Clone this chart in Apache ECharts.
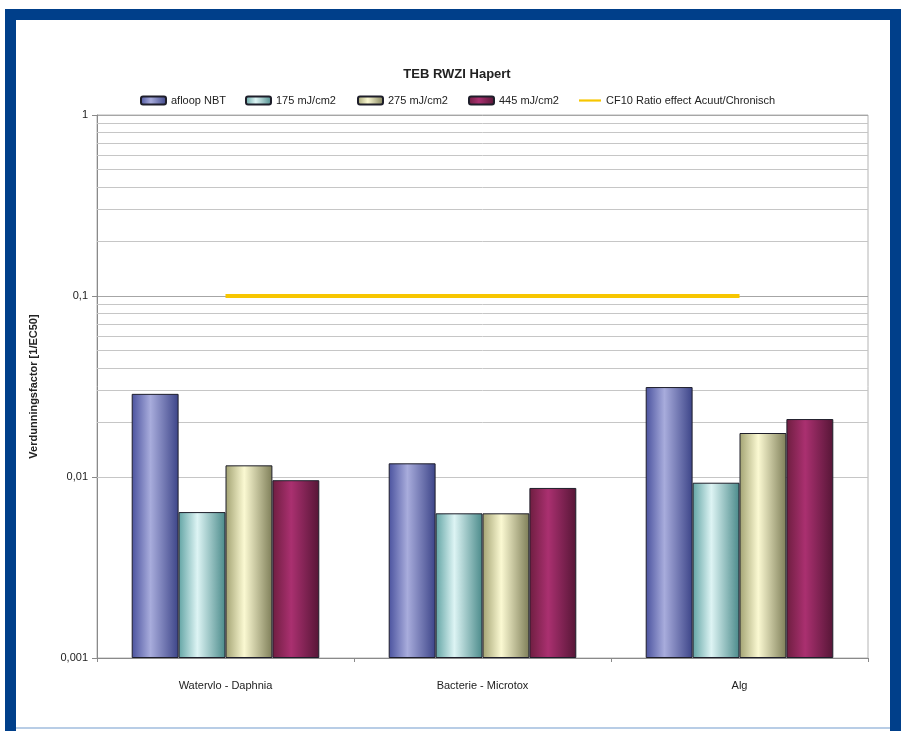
<!DOCTYPE html>
<html>
<head>
<meta charset="utf-8">
<script src="https://cdn.jsdelivr.net/npm/echarts@6/dist/echarts.min.js"></script>
<style>
html,body{margin:0;padding:0;background:#fff;}
#chart{width:901px;height:731px;}
</style>
</head>
<body>
<div id="chart"></div>
<script>
const categories = ['Watervlo - Daphnia', 'Bacterie - Microtox', 'Alg'];
const afloopNBT = [0.0288, 0.0119, 0.0314];
const mj175 = [0.0064, 0.0063, 0.0093];
const mj275 = [0.0116, 0.0063, 0.0175];
const mj445 = [0.0096, 0.0087, 0.0209];
const cf10 = [0.1, 0.1, 0.1];
const yTicks = [0.001, 0.01, 0.1, 1];
const minorGrid = [0.002,0.003,0.004,0.005,0.006,0.007,0.008,0.009,
                   0.02,0.03,0.04,0.05,0.06,0.07,0.08,0.09,
                   0.2,0.3,0.4,0.5,0.6,0.7,0.8,0.9];

const FONT = '"Liberation Sans", Arial, sans-serif';
function grad(a, b, c) {
  return {type:'linear', x:0, y:0, x2:1, y2:0, colorStops:[
    {offset:0, color:a},{offset:0.4, color:b},{offset:1, color:c}]};
}
const colBlue = grad('#4a529e', '#a8acdc', '#3c4488');
const colCyan = grad('#62a4a4', '#ddf4f4', '#4a8a8a');
const colYel = grad('#a2a272', '#fbf9d2', '#7e7e58');
const colMar = grad('#6e1e40', '#aa3070', '#561636');

function barSeries(name, data, color) {
  return {name, type:'bar', data, z:3,
    itemStyle:{color, borderColor:'#1e1e2a', borderWidth:1},
    barGap:'0%', barCategoryGap:'27%'};
}
function legendAt(name, left, extra) {
  return Object.assign({show:true, left, top:90, itemWidth:25, itemHeight:8, itemGap:0,
    data:[name], textStyle:{fontFamily:FONT, fontSize:11, color:'#222'}}, extra||{});
}

const chart = echarts.init(document.getElementById('chart'));
chart.setOption({
  backgroundColor:'#fff',
  animation:false,
  title:{text:'TEB RWZI Hapert', left:452, textAlign:'center', top:63,
    textStyle:{fontFamily:FONT, fontSize:13, fontWeight:'bold', color:'#222'}},
  legend:[
    legendAt('afloop NBT', 135),
    legendAt('175 mJ/cm2', 240),
    legendAt('275 mJ/cm2', 352),
    legendAt('445 mJ/cm2', 463),
    legendAt('CF10 Ratio effect Acuut/Chronisch', 574,
      {data:[{name:'CF10 Ratio effect Acuut/Chronisch', icon:'path://M0,0 L20,0 L20,2 L0,2 Z'}], itemWidth:22})
  ],
  grid:{left:97, right:33, top:115, bottom:73, show:true, borderColor:'#b4b4b4', borderWidth:1, backgroundColor:'#fff'},
  xAxis:{type:'category', data:categories,
    axisLine:{lineStyle:{color:'#8a8a8a'}},
    axisTick:{show:true, length:4, lineStyle:{color:'#8a8a8a'}},
    axisLabel:{fontFamily:FONT, fontSize:11, color:'#222', margin:22}},
  yAxis:{type:'log', logBase:10, min:yTicks[0], max:yTicks[yTicks.length-1], startValue:yTicks[0],
    name:'Verdunningsfactor [1/EC50]', nameLocation:'middle', nameGap:58, nameRotate:90,
    nameTextStyle:{fontFamily:FONT, fontSize:11, fontWeight:'bold', color:'#222'},
    axisLine:{show:true, lineStyle:{color:'#8a8a8a'}},
    axisTick:{show:true, length:5, lineStyle:{color:'#8a8a8a'}},
    splitLine:{show:true, lineStyle:{color:'#a6a6a6', width:1}},
    axisLabel:{fontFamily:FONT, fontSize:11, color:'#222', margin:9,
      formatter:v => String(v).replace('.', ',')}},
  graphic:[
    {type:'rect', shape:{x:5, y:9, width:896, height:11}, style:{fill:'#003f8a'}, z:100},
    {type:'rect', shape:{x:5, y:9, width:11, height:722}, style:{fill:'#003f8a'}, z:100},
    {type:'rect', shape:{x:890, y:9, width:11, height:722}, style:{fill:'#003f8a'}, z:100},
    {type:'rect', shape:{x:16, y:727, width:874, height:2}, style:{fill:'#b8cde6'}, z:100}
  ],
  series:[
    {name:'minor', type:'line', data:[null,null,null], z:1, silent:true,
      markLine:{silent:true, z:1, symbol:['none','none'], label:{show:false},
        lineStyle:{color:'#c6c6c6', width:1, type:'solid'},
        data:minorGrid.map(v => ({yAxis:v}))}},
    barSeries('afloop NBT', afloopNBT, colBlue),
    barSeries('175 mJ/cm2', mj175, colCyan),
    barSeries('275 mJ/cm2', mj275, colYel),
    barSeries('445 mJ/cm2', mj445, colMar),
    {name:'CF10 Ratio effect Acuut/Chronisch', type:'line', data:cf10, z:4,
      showSymbol:false, symbol:'none',
      lineStyle:{color:'#f7c600', width:4}, itemStyle:{color:'#f7c600'}}
  ]
});
</script>
</body>
</html>
